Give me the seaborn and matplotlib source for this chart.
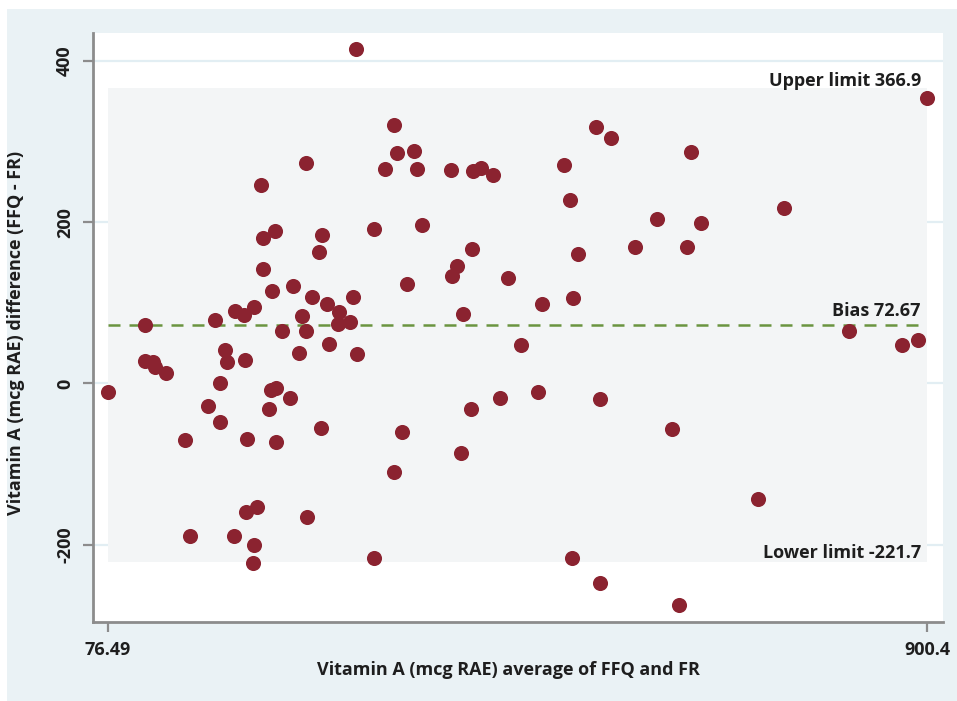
import matplotlib
matplotlib.use("Agg")
import matplotlib.pyplot as plt
from matplotlib.patches import Rectangle
import seaborn as sns
import pandas as pd

# ---- data ----
avg_vals = [
    76.49, 114.0, 114.0, 122.0, 124.1, 135.1, 153.9, 158.9, 177.3, 184.7,
    189.1, 189.7, 194.7, 196.7, 203.5, 204.2, 213.2, 214.2, 215.2, 216.5,
    222.3, 223.3, 223.9, 226.9, 230.6, 232.3, 232.9, 238.7, 241.0, 241.7,
    244.7, 245.4, 246.0, 251.7, 259.5, 262.8, 268.5, 271.8, 275.8, 276.1,
    276.9, 281.9, 289.2, 291.2, 291.6, 297.0, 298.7, 308.0, 308.7, 319.8,
    323.4, 326.1, 327.1, 344.2, 344.2, 355.6, 364.0, 364.3, 367.3, 372.7,
    377.4, 384.1, 387.4, 392.5, 421.6, 422.6, 427.9, 431.4, 434.0, 442.0,
    442.4, 444.0, 451.8, 463.5, 470.9, 479.2, 492.3, 509.1, 512.8, 535.2,
    541.2, 542.9, 544.2, 549.0, 567.4, 571.1, 571.7, 582.1, 606.9, 628.7,
    643.8, 650.8, 658.5, 662.6, 673.2, 730.5, 756.4, 822.0, 875.3, 890.8,
    900.4,
]
diff_vals = [
    -10.8, 72.4, 27.7, 26.4, 20.2, 12.8, -70.0, -189.2, -28.2, 79.2,
    -48.0, 0.0, 41.7, 26.8, -189.2, 90.1, 84.8, 29.3, -158.9, -69.2,
    -222.2, -199.9, 95.1, -153.2, 245.8, 142.3, 180.4, -32.3, -7.9, 114.2,
    188.7, -5.8, -72.9, 64.9, -18.6, 120.8, 37.6, 83.6, 273.5, 64.9,
    -166.0, 107.1, 163.4, -55.1, 184.1, 98.1, 49.2, 74.2, 88.9, 76.1,
    107.5, 415.0, 36.7, 191.2, -216.9, 266.4, -109.7, 321.0, 285.9, -60.5,
    123.7, 288.8, 266.4, 196.5, 264.8, 133.2, 146.0, -86.5, 86.0, -31.9,
    166.7, 263.6, 267.3, 258.6, -18.2, 130.4, 47.5, -11.2, 98.1, 271.4,
    227.9, -216.9, 106.3, 160.2, 318.6, -19.5, -247.6, 304.5, 169.6, 204.0,
    -56.0, -274.9, 169.6, 287.2, 199.5, -143.6, 217.6, 64.9, 48.3, 54.3,
    354.7,
]

bias = 72.67
upper_limit = 366.9
lower_limit = -221.7
x_min_label, x_max_label = 76.49, 900.4
y_ticks = [-200, 0, 200, 400]
x_ticks = [76.49, 900.4]
x_tick_labels = ["76.49", "900.4"]

ylabel = "Vitamin A (mcg RAE) difference (FFQ - FR)"
xlabel = "Vitamin A (mcg RAE) average of FFQ and FR"

df = pd.DataFrame({"avg": avg_vals, "diff": diff_vals})

# ---- styling ----
sns.set_style("white")
FONT = ["Open Sans", "DejaVu Sans"]
plt.rcParams["font.family"] = FONT
plt.rcParams["font.weight"] = "bold"
FS = 13
TXT = "#1e1e1e"

W, H = 957, 701
fig = plt.figure(figsize=(W / 100, H / 100), dpi=100, facecolor="white")
fig.patches.append(Rectangle((7 / W, 0), (W - 7) / W, (H - 9) / H,
                             transform=fig.transFigure, facecolor="#eaf2f5",
                             edgecolor="none", zorder=-10))

ax = fig.add_axes([93 / W, 1 - 622 / H, 850 / W, 589 / H])
ax.set_zorder(1)
ax.set_facecolor("white")

ax.set_xlim(61.7, 916.2)
ax.set_ylim(-296, 434.8)

for yv in y_ticks:
    ax.axhline(yv, color="#e2eef3", lw=1.6, zorder=0.5)

ax.fill_between([x_min_label, x_max_label], lower_limit, upper_limit,
                color="#f3f5f6", zorder=1, lw=0)

ax.plot([x_min_label, x_max_label], [bias, bias], color="#6a9440", lw=1.8,
        linestyle=(0, (4.8, 3.6)), zorder=2)

sns.scatterplot(data=df, x="avg", y="diff", ax=ax, s=118, color="#8b2330",
                linewidth=0, zorder=3, legend=False)

tx = 894.0
ax.annotate(f"Upper limit {upper_limit}", (tx, upper_limit), xytext=(0, 1.2),
            textcoords="offset points", ha="right", va="baseline",
            fontsize=FS, fontweight="bold", color=TXT, zorder=4)
ax.annotate(f"Bias {bias}", (tx, bias), xytext=(0, 6.2),
            textcoords="offset points", ha="right", va="baseline",
            fontsize=FS, fontweight="bold", color=TXT, zorder=4)
ax.annotate(f"Lower limit {lower_limit}", (tx, lower_limit), xytext=(0, 3.2),
            textcoords="offset points", ha="right", va="baseline",
            fontsize=FS, fontweight="bold", color=TXT, zorder=4)

ax.set_yticks(y_ticks)
ax.set_yticklabels([str(v) for v in y_ticks])
ax.set_xticks(x_ticks)
ax.set_xticklabels(x_tick_labels)
ax.tick_params(axis="both", which="major", length=7, width=1.6,
               color="#8c8c8c", labelsize=FS, labelcolor=TXT, pad=6.5,
               direction="out", left=True, bottom=True)
ax.tick_params(axis="y", labelrotation=90)
for lbl in ax.get_yticklabels():
    lbl.set_va("center")
    lbl.set_fontweight("bold")
for lbl in ax.get_xticklabels():
    lbl.set_fontweight("bold")

for side in ["top", "right"]:
    ax.spines[side].set_visible(False)
for side in ["left", "bottom"]:
    ax.spines[side].set_color("#8c8c8c")
    ax.spines[side].set_linewidth(2)

ax.set_xlabel(xlabel, fontsize=FS, fontweight="bold", color=TXT)
ax.set_ylabel(ylabel, fontsize=FS, fontweight="bold", color=TXT)
ax.xaxis.set_label_coords(0.489, -0.067)
ax.yaxis.set_label_coords(-0.080, 0.49)
ax.grid(False)

fig.savefig("out.png", dpi=100, facecolor="white")
